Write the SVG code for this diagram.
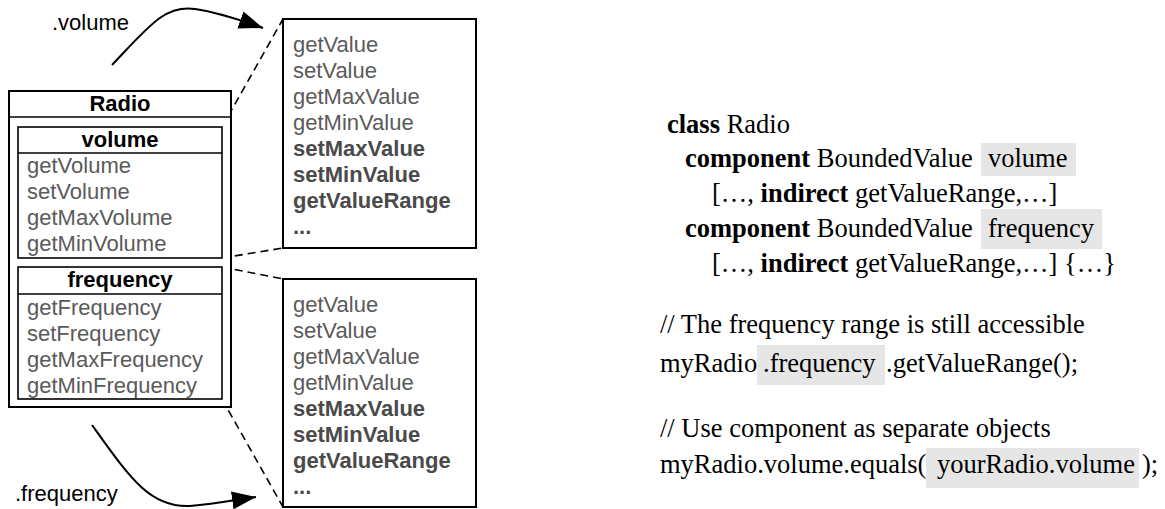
<svg xmlns="http://www.w3.org/2000/svg" width="1165" height="509" viewBox="0 0 1165 509">
<style>
.box{fill:#fff;stroke:#000;stroke-width:2}
.in{fill:#fff;stroke:#000;stroke-width:1.6}
.sep{stroke:#000;stroke-width:1.6}
.hd{font-family:"Liberation Sans",Arial,sans-serif;font-size:22px;font-weight:bold;fill:#000;text-anchor:middle}
.it{font-family:"Liberation Sans",Arial,sans-serif;font-size:22px;fill:#5a5a5a}
.itb{font-family:"Liberation Sans",Arial,sans-serif;font-size:22px;font-weight:bold;fill:#4a4a4a}
.lbl{font-family:"Liberation Sans",Arial,sans-serif;font-size:22px;fill:#000}
.code{font-family:"Liberation Serif","Times New Roman",serif;font-size:26.5px;fill:#000}
.b{font-weight:bold}
.hl{fill:#e6e6e6}
.dash{fill:none;stroke:#000;stroke-width:1.6;stroke-dasharray:8,5}
.arr{fill:none;stroke:#000;stroke-width:2}
</style>
<defs>
<marker id="ah" markerUnits="userSpaceOnUse" markerWidth="26" markerHeight="20" refX="24" refY="9" orient="auto">
<path d="M0,0 L24,9 L0,18 Z" fill="#000"/>
</marker>
</defs>

<g id="connectors">
<path class="dash" d="M222,127 L283,19"/>
<path class="dash" d="M222,258 L283,248"/>
<path class="dash" d="M222,267 L283,279"/>
<path class="dash" d="M222,399 L283,507"/>
<path class="arr" d="M112,65 C150,25 165,5 195,9 C215,12 235,18 263,28" marker-end="url(#ah)"/>
<path class="arr" d="M92,425 C130,478 150,508 190,506 C215,504 235,500 256,497" marker-end="url(#ah)"/>
</g>

<g id="radio">
<rect class="box" x="9" y="91" width="222" height="316"/>
<line class="sep" x1="9" y1="117" x2="231" y2="117"/>
<text class="hd" x="120" y="111">Radio</text>
</g>

<g id="volume">
<rect class="in" x="18" y="127" width="204" height="131"/>
<line class="sep" x1="18" y1="153" x2="222" y2="153"/>
<text class="hd" x="120" y="147">volume</text>
<text class="it" x="27" y="173">getVolume</text>
<text class="it" x="27" y="199">setVolume</text>
<text class="it" x="27" y="225">getMaxVolume</text>
<text class="it" x="27" y="251">getMinVolume</text>
</g>

<g id="frequency">
<rect class="in" x="18" y="267" width="204" height="132"/>
<line class="sep" x1="18" y1="294" x2="222" y2="294"/>
<text class="hd" x="120" y="287">frequency</text>
<text class="it" x="27" y="315">getFrequency</text>
<text class="it" x="27" y="341">setFrequency</text>
<text class="it" x="27" y="367">getMaxFrequency</text>
<text class="it" x="27" y="393">getMinFrequency</text>
</g>

<g id="volumeValue">
<rect class="box" x="283" y="19" width="193" height="229"/>
<text class="it" x="293" y="52">getValue</text>
<text class="it" x="293" y="78">setValue</text>
<text class="it" x="293" y="104">getMaxValue</text>
<text class="it" x="293" y="130">getMinValue</text>
<text class="itb" x="293" y="156">setMaxValue</text>
<text class="itb" x="293" y="182">setMinValue</text>
<text class="itb" x="293" y="208">getValueRange</text>
<text class="itb" x="293" y="234">...</text>
</g>

<g id="frequencyValue">
<rect class="box" x="283" y="279" width="193" height="228"/>
<text class="it" x="293" y="312">getValue</text>
<text class="it" x="293" y="338">setValue</text>
<text class="it" x="293" y="364">getMaxValue</text>
<text class="it" x="293" y="390">getMinValue</text>
<text class="itb" x="293" y="416">setMaxValue</text>
<text class="itb" x="293" y="442">setMinValue</text>
<text class="itb" x="293" y="468">getValueRange</text>
<text class="itb" x="293" y="494">...</text>
</g>

<g id="labels">
<text class="lbl" x="52" y="30">.volume</text>
<text class="lbl" x="15" y="501">.frequency</text>
</g>

<g id="code">
<rect class="hl" x="981" y="143" width="95" height="33"/>
<rect class="hl" x="981" y="209" width="121" height="40"/>
<rect class="hl" x="757" y="345" width="128" height="40"/>
<rect class="hl" x="926" y="448" width="213" height="40"/>
<text class="code" x="667" y="133"><tspan class="b">class</tspan> Radio</text>
<text class="code" x="685" y="167"><tspan class="b">component</tspan> BoundedValue</text>
<text class="code" x="988" y="167">volume</text>
<text class="code" x="712" y="202">[…, <tspan class="b">indirect</tspan> getValueRange,…]</text>
<text class="code" x="685" y="237"><tspan class="b">component</tspan> BoundedValue</text>
<text class="code" x="988" y="237">frequency</text>
<text class="code" x="712" y="272">[…, <tspan class="b">indirect</tspan> getValueRange,…] {…}</text>
<text class="code" x="660" y="333">// The frequency range is still accessible</text>
<text class="code" x="660" y="372">myRadio</text>
<text class="code" x="763" y="372">.frequency</text>
<text class="code" x="886" y="372">.getValueRange();</text>
<text class="code" x="660" y="437">// Use component as separate objects</text>
<text class="code" x="660" y="473">myRadio.volume.equals(</text>
<text class="code" x="937" y="473">yourRadio.volume</text>
<text class="code" x="1142" y="473">);</text>
</g>
</svg>
